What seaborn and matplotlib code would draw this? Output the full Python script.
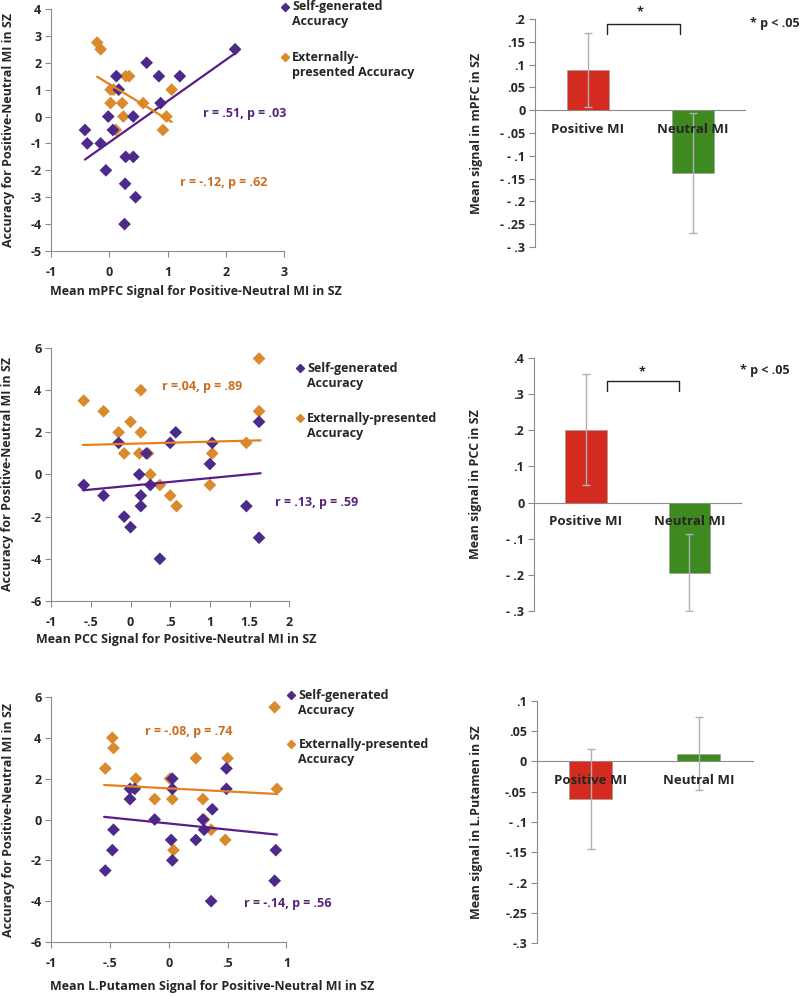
import numpy as np
import pandas as pd
import matplotlib
matplotlib.use("Agg")
import matplotlib.pyplot as plt
import seaborn as sns

sns.set_style("white")
plt.rcParams['font.family'] = ['Open Sans', 'DejaVu Sans']
plt.rcParams['font.weight'] = 'bold'
plt.rcParams['axes.labelweight'] = 'bold'

PURPLE = '#4b2a8c'
ORANGE = '#d98a2c'
PURPLE_LINE = '#5a1c8a'
ORANGE_LINE = '#e2821f'
PURPLE_TXT = '#56247a'
ORANGE_TXT = '#cf6d1f'
RED = '#d42b20'
GREEN = '#3f8a20'
GREY = '#8c8c8c'

### scatter data
# mPFC
mpfc_self_x = [-0.42, -0.38, -0.15, -0.06, -0.02, 0.06, 0.12, 0.16, 0.28, 0.41, 0.27, 0.26,
               0.41, 0.45, 0.64, 0.85, 0.88, 1.21, 2.16]
mpfc_self_y = [-0.5, -1, -1, -2, 0, -0.5, 1.5, 1.0, -1.5, -1.5, -2.5, -4, 0, -3, 2, 1.5, 0.5, 1.5, 2.5]
mpfc_ext_x = [-0.21, -0.15, 0.02, 0.07, 0.02, 0.11, 0.22, 0.24, 0.28, 0.34, 0.58, 0.92, 0.98, 1.07]
mpfc_ext_y = [2.75, 2.5, 1, 1, 0.5, -0.5, 0.5, 0, 1.5, 1.5, 0.5, -0.5, 0, 1.0]
mpfc_self_fit_x = [-0.42, 2.16]
mpfc_self_fit_y = [-1.6, 2.35]
mpfc_ext_fit_x = [-0.21, 1.07]
mpfc_ext_fit_y = [1.48, -0.2]

# PCC
pcc_self_x = [-0.59, -0.34, -0.15, -0.08, 0.0, 0.11, 0.13, 0.13, 0.20, 0.25, 0.37, 0.50, 0.57,
              1.0, 1.03, 1.46, 1.62, 1.62]
pcc_self_y = [-0.5, -1, 1.5, -2, -2.5, 0, -1, -1.5, 1, -0.5, -4, 1.5, 2, 0.5, 1.5, -1.5, 2.5, -3]
pcc_ext_x = [-0.59, -0.34, -0.15, -0.08, 0.0, 0.13, 0.13, 0.11, 0.22, 0.25, 0.37, 0.50, 0.58,
             1.0, 1.03, 1.46, 1.62, 1.62]
pcc_ext_y = [3.5, 3, 2, 1, 2.5, 4, 2, 1, 1, 0, -0.5, -1, -1.5, -0.5, 1, 1.5, 5.5, 3]
pcc_self_fit_x = [-0.60, 1.64]
pcc_self_fit_y = [-0.75, 0.06]
pcc_ext_fit_x = [-0.60, 1.64]
pcc_ext_fit_y = [1.40, 1.62]

# L.Putamen
put_self_x = [-0.54, -0.48, -0.47, -0.33, -0.29, -0.33, -0.12, 0.02, 0.03, 0.03, 0.03, 0.23,
              0.29, 0.30, 0.36, 0.37, 0.49, 0.49, 0.90, 0.91]
put_self_y = [-2.5, -1.5, -0.5, 1.5, 1.5, 1, 0, -1, -2, 2, 1.5, -1, 0, -0.5, -4, 0.5, 2.5, 1.5, -3, -1.5]
put_ext_x = [-0.54, -0.48, -0.47, -0.33, -0.28, -0.12, 0.01, 0.03, 0.04, 0.23, 0.29, 0.30,
             0.36, 0.48, 0.50, 0.90, 0.92]
put_ext_y = [2.5, 4, 3.5, 1, 2, 1, 2, 1, -1.5, 3, 1, 0, -0.5, -1, 3, 5.5, 1.5]
put_self_fit_x = [-0.55, 0.92]
put_self_fit_y = [0.13, -0.74]
put_ext_fit_x = [-0.55, 0.92]
put_ext_fit_y = [1.69, 1.25]

### bar data
conditions = ['Positive MI', 'Neutral MI']
mpfc_mean = [0.088, -0.138]
mpfc_err = [0.081, 0.132]
pcc_mean = [0.202, -0.194]
pcc_err = [0.154, 0.107]
put_mean = [-0.062, 0.013]
put_err = [0.083, 0.060]

FS = 9

fig = plt.figure(figsize=(8, 9.96), dpi=100)


def style_axis(ax):
    for s in ['top', 'right']:
        ax.spines[s].set_visible(False)
    for s in ['left', 'bottom']:
        ax.spines[s].set_color(GREY)
        ax.spines[s].set_linewidth(0.8)
    ax.tick_params(axis='both', length=4, width=0.8, color=GREY, labelsize=FS, pad=3,
                   direction='out', left=True, bottom=True)


def scatter_panel(rect, sx, sy, ex, ey, sfx, sfy, efx, efy, xlim, xticks, xticklabels,
                  ylim, yticks, xlabel, xlab_pos, s_txt, s_pos, e_txt, e_pos, leg):
    ax = fig.add_axes(rect)
    sns.scatterplot(x=ex, y=ey, ax=ax, marker='D', s=42, color=ORANGE, edgecolor='none', zorder=3)
    sns.scatterplot(x=sx, y=sy, ax=ax, marker='D', s=42, color=PURPLE, edgecolor='none', zorder=3)
    sns.lineplot(x=sfx, y=sfy, ax=ax, color=PURPLE_LINE, lw=1.6, zorder=4)
    sns.lineplot(x=efx, y=efy, ax=ax, color=ORANGE_LINE, lw=1.6, zorder=4)
    ax.set_xlim(xlim)
    ax.set_ylim(ylim)
    ax.set_xticks(xticks)
    ax.set_xticklabels(xticklabels)
    ax.set_yticks(yticks)
    ax.set_yticklabels([str(v) for v in yticks])
    style_axis(ax)
    ax.tick_params(axis='x', pad=7)
    ax.set_xlabel(xlabel, fontsize=FS)
    ax.xaxis.set_label_coords(*xlab_pos)
    ax.set_ylabel('Accuracy for Positive-Neutral MI in SZ', fontsize=FS)
    ax.yaxis.set_label_coords(-0.155, 0.5)
    ax.text(*s_pos, s_txt, color=PURPLE_TXT, fontsize=FS, va='center', ha='left')
    ax.text(*e_pos, e_txt, color=ORANGE_TXT, fontsize=FS, va='center', ha='left')
    # legend drawn by hand so the marker sits on the first line
    (mx, my1, ty1, lab1), (_, my2, ty2, lab2) = leg
    ax.plot([mx], [my1], marker='D', ms=4.5, color=PURPLE, transform=ax.transAxes, clip_on=False)
    ax.plot([mx], [my2], marker='D', ms=4.5, color=ORANGE, transform=ax.transAxes, clip_on=False)
    ax.text(mx + 0.03, ty1, lab1, transform=ax.transAxes, fontsize=FS, va='top', ha='left',
            linespacing=1.2)
    ax.text(mx + 0.03, ty2, lab2, transform=ax.transAxes, fontsize=FS, va='top', ha='left',
            linespacing=1.2)
    return ax


def bar_panel(rect, means, errs, ylim, yticks, yticklabels, ylabel, sig=None):
    ax = fig.add_axes(rect)
    df = pd.DataFrame({'cond': conditions, 'val': means})
    sns.barplot(data=df, x='cond', y='val', hue='cond', palette=[RED, GREEN], width=0.4,
                saturation=1, errorbar=None, legend=False, ax=ax, edgecolor='#9a9a9a',
                linewidth=0.4, zorder=2)
    ax.errorbar(x=[0, 1], y=means, yerr=errs, fmt='none', ecolor='#b0b0b0', elinewidth=1,
                capsize=3, capthick=1, zorder=2.2)
    ax.set_xlim(-0.5, 1.5)
    ax.set_ylim(ylim)
    ax.set_yticks(yticks)
    ax.set_yticklabels(yticklabels)
    style_axis(ax)
    ax.set_axisbelow(False)
    ax.spines['bottom'].set_position(('data', 0))
    ax.spines['bottom'].set_zorder(1)
    ax.set_xticks([-0.5, 0.5, 1.5], minor=True)
    ax.tick_params(axis='x', which='major', length=0, pad=9, labelsize=FS + 0.5)
    ax.tick_params(axis='x', which='minor', length=4, width=0.8, color=GREY, direction='out')
    ax.set_xlabel('')
    ax.set_ylabel(ylabel, fontsize=FS)
    ax.yaxis.set_label_coords(-0.25, 0.5)
    if sig is not None:
        bx0, bx1, by0, by1, star, ptxt = sig
        ax.plot([bx0, bx0, bx1, bx1], [by1, by0, by0, by1], color='#222222', lw=1,
                transform=ax.transAxes, clip_on=False)
        ax.text(star[0], star[1], '*', transform=ax.transAxes, ha='center', va='center', fontsize=FS)
        ax.text(ptxt[0], ptxt[1], '* p < .05', transform=ax.transAxes, ha='left', va='center',
                fontsize=FS)
    return ax


# row 1
scatter_panel([0.064, 0.748, 0.291, 0.243], mpfc_self_x, mpfc_self_y, mpfc_ext_x, mpfc_ext_y,
              mpfc_self_fit_x, mpfc_self_fit_y, mpfc_ext_fit_x, mpfc_ext_fit_y,
              (-1, 3), [-1, 0, 1, 2, 3], ['-1', '0', '1', '2', '3'],
              (-5, 4), list(range(-5, 5)),
              'Mean mPFC Signal for Positive-Neutral MI in SZ', (0.62, -0.142),
              'r = .51, p = .03', (1.6, 0.1), 'r = -.12, p = .62', (1.21, -2.47),
              [(1.004, 1.008, 1.035, 'Self-generated\nAccuracy'),
               (1.004, 0.80, 0.827, 'Externally-\npresented Accuracy')])
bar_panel([0.669, 0.752, 0.2625, 0.229], mpfc_mean, mpfc_err, (-0.3, 0.2),
          [0.2, 0.15, 0.1, 0.05, 0, -0.05, -0.1, -0.15, -0.2, -0.25, -0.3],
          ['.2', '.15', '.1', '.05', '0', '- .05', '- .1', '- .15', '- .2', '- .25', '- .3'],
          'Mean signal in mPFC in SZ',
          sig=(0.343, 0.69, 0.978, 0.934, (0.5, 1.03), (1.024, 0.982)))

# row 2
scatter_panel([0.064, 0.3966, 0.2975, 0.254], pcc_self_x, pcc_self_y, pcc_ext_x, pcc_ext_y,
              pcc_self_fit_x, pcc_self_fit_y, pcc_ext_fit_x, pcc_ext_fit_y,
              (-1, 2), [-1, -0.5, 0, 0.5, 1, 1.5, 2], ['-1', '-.5', '0', '.5', '1', '1.5', '2'],
              (-6, 6), [-6, -4, -2, 0, 2, 4, 6],
              'Mean PCC Signal for Positive-Neutral MI in SZ', (0.525, -0.128),
              'r = .13, p = .59', (1.82, -1.33), 'r =.04, p = .89', (0.40, 4.17),
              [(1.046, 0.921, 0.945, 'Self-generated\nAccuracy'),
               (1.046, 0.723, 0.747, 'Externally-presented\nAccuracy')])
bar_panel([0.6675, 0.3866, 0.259, 0.254], pcc_mean, pcc_err, (-0.3, 0.4),
          [0.4, 0.3, 0.2, 0.1, 0, -0.1, -0.2, -0.3],
          ['.4', '.3', '.2', '.1', '0', '- .1', '- .2', '- .3'],
          'Mean signal in PCC in SZ',
          sig=(0.353, 0.70, 0.909, 0.870, (0.52, 0.945), (0.995, 0.949)))

# row 3
scatter_panel([0.064, 0.0542, 0.294, 0.246], put_self_x, put_self_y, put_ext_x, put_ext_y,
              put_self_fit_x, put_self_fit_y, put_ext_fit_x, put_ext_fit_y,
              (-1, 1), [-1, -0.5, 0, 0.5, 1], ['-1', '-.5', '0', '.5', '1'],
              (-6, 6), [-6, -4, -2, 0, 2, 4, 6],
              'Mean L.Putamen Signal for Positive-Neutral MI in SZ', (0.685, -0.155),
              'r = -.14, p = .56', (0.64, -4.13), 'r = -.08, p = .74', (-0.20, 4.3),
              [(1.021, 1.008, 1.032, 'Self-generated\nAccuracy'),
               (1.021, 0.808, 0.832, 'Externally-presented\nAccuracy')])
bar_panel([0.671, 0.0532, 0.27, 0.243], put_mean, put_err, (-0.3, 0.1),
          [0.1, 0.05, 0, -0.05, -0.1, -0.15, -0.2, -0.25, -0.3],
          ['.1', '.05', '0', '-.05', '- .1', '-.15', '- .2', '-.25', '-.3'],
          'Mean signal in L.Putamen in SZ')

fig.savefig('out.png', dpi=100)
